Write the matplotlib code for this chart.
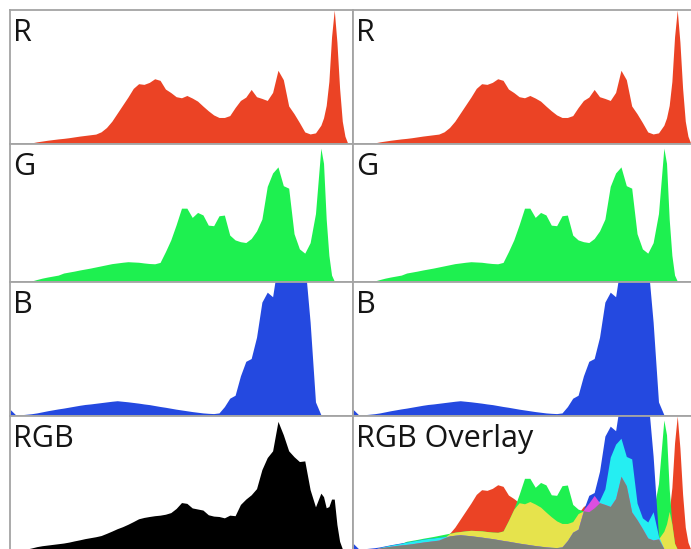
import matplotlib
matplotlib.use("Agg")
import matplotlib.pyplot as plt
import numpy as np

# histogram levels (0-255), same grid for every channel
levels = list(range(0, 233, 4)) + list(range(234, 253, 2)) + [256]

red = [0, 0, 0, 0, 0.8, 1.6, 2.2, 2.8, 3.3, 3.8, 4.2, 4.7, 5.3, 5.9, 6.4, 6.9,
       7.4, 9.1, 12.3, 17, 23, 29, 35, 41.5, 45, 44.5, 46, 48.7, 47.5, 41, 38.4,
       35.3, 34.5, 36.2, 34.3, 32, 28.3, 24.8, 21.7, 19.8, 19.8, 21.2, 27.2,
       32.5, 35, 40.7, 35.3, 34, 32.5, 38.5, 55, 48, 28.4, 22.6, 16, 9, 7.5,
       8.3, 14,
       19.5, 28.8, 46.7, 80, 100, 76, 41.6, 17, 5.8, 0.6,
       0]

green = [0, 0, 0, 0, 0.7, 1.8, 2.8, 3.6, 4.3, 5.0, 6.5, 7.2, 7.9, 8.7, 9.4,
         10.1, 10.9, 11.7, 12.5, 13.3, 13.8, 14.3, 14.7, 14.5, 14.3, 13.8,
         13.4, 13.2, 14.2, 22, 30.5, 41.5, 53.5, 53.5, 46.8, 50.4, 48.6, 41.2,
         40.8, 48, 48.5, 34, 30.5, 29.2, 28.6, 31.5, 37, 45.6, 69.3, 79, 83.4,
         69.8, 68, 35, 24, 20.9, 28.5, 49.6, 97,
         86, 45.5, 19.3, 5, 0.7, 0, 0, 0, 0, 0,
         0]

# values above 100 are clipped by the panel top
blue = [5, 1.1, 0.9, 1.3, 1.7, 2.3, 3.1, 3.9, 4.6, 5.3, 5.9, 6.6, 7.3, 8.0,
        8.6, 9.0, 9.5, 10.0, 10.5, 11.0, 11.4, 11.0, 10.6, 10.1, 9.6, 9.0, 8.5,
        7.8, 7.1, 6.5, 5.8, 5.1, 4.5, 3.9, 3.3, 2.8, 2.3, 2.0, 1.8, 2.3, 7,
        13.3, 15.5, 30, 40.8, 42.9, 58.8, 85, 92.4, 89, 115, 115, 115, 115,
        115, 115, 70, 10.5, 1,
        0.3, 0, 0, 0, 0, 0, 0, 0, 0, 0,
        0]

rgb = [0, 0, 0, 0.6, 1.5, 2.5, 3.2, 3.7, 4.2, 4.7, 5.2, 5.9, 6.8, 7.6, 8.5,
       9.2, 9.9, 10.8, 12.4, 14.1, 15.9, 17.4, 19.2, 21.2, 23.3, 24.3, 25,
       25.6, 26, 26.7, 27.9, 31, 35.4, 34.8, 31.4, 30.6, 29.8, 26.3, 25.3, 25,
       24, 26, 25.6, 34, 38, 41.2, 45.8, 60, 69, 74, 96, 86, 74, 69.6, 66,
       66.5, 45, 32.2, 42.4,
       39.8, 31.5, 32.4, 38, 38, 19, 6.5, 1, 0, 0,
       0]

RED = "#eb4325"
GREEN = "#1ef050"
BLUE = "#2449e0"
YELLOW = "#e6e34c"
CYAN = "#25eef2"
MAGENTA = "#dd4fe0"
GREY = "#7b8278"

W, H = 691, 549
col_x = [10, 353]
col_w = 343
row_edges = [10, 144, 282, 416, 550]

fig = plt.figure(figsize=(W / 100, H / 100), dpi=100)

panels = [
    ("R", [(red, RED)]),
    ("G", [(green, GREEN)]),
    ("B", [(blue, BLUE)]),
    ("RGB", [(rgb, "black")]),
]


def make_axes(col, row):
    top, bottom = row_edges[row], row_edges[row + 1]
    ax = fig.add_axes([col_x[col] / W, 1 - bottom / H, col_w / W, (bottom - top) / H])
    ax.set_xlim(0, 256)
    ax.set_ylim(0, 100)
    ax.set_xticks([])
    ax.set_yticks([])
    for s in ax.spines.values():
        s.set_color("#a4a4a4")
        s.set_linewidth(1.3)
    return ax, bottom - top


def label(ax, h, text):
    ax.text(3 / col_w, 1 - 31 / h, text, transform=ax.transAxes,
            fontsize=22, family=["Open Sans", "DejaVu Sans"],
            color="#151515", va="baseline", ha="left")


for row, (name, series) in enumerate(panels):
    for col in range(2):
        ax, h = make_axes(col, row)
        if row == 3 and col == 1:
            r, g, b = np.array(red), np.array(green), np.array(blue)
            ax.fill_between(levels, r, color=RED, lw=0)
            ax.fill_between(levels, g, color=GREEN, lw=0)
            ax.fill_between(levels, b, color=BLUE, lw=0)
            ax.fill_between(levels, np.minimum(r, g), color=YELLOW, lw=0)
            ax.fill_between(levels, np.minimum(g, b), color=CYAN, lw=0)
            ax.fill_between(levels, np.minimum(r, b), color=MAGENTA, lw=0)
            ax.fill_between(levels, np.minimum(np.minimum(r, g), b), color=GREY, lw=0)
            label(ax, h, "RGB Overlay")
        else:
            for vals, c in series:
                ax.fill_between(levels, vals, color=c, lw=0)
            label(ax, h, name)

fig.savefig("out.png", dpi=100, facecolor="white")
